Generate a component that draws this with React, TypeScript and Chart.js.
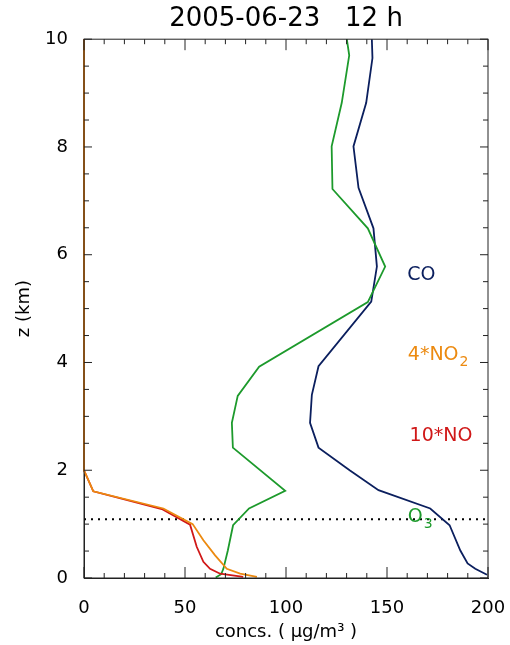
import React, { useEffect, useRef } from "react";
import { Chart, registerables } from "chart.js";

Chart.register(...registerables);

// ---------- text ----------
const TITLE = "2005-06-23   12 h";
const X_TITLE = "concs. ( μg/m³ )";
const Y_TITLE = "z (km)";

// ---------- axes ----------
const X_MIN = 0;
const X_MAX = 200;
const X_MAJOR = 50;
const X_MINOR = 10;
const Y_MIN = 0;
const Y_MAX = 10;
const Y_MAJOR = 2;
const Y_MINOR = 0.5;

// ---------- data (concentration vs height) ----------
const CO_Z = [10.0, 9.65, 8.82, 8.01, 7.24, 6.49, 5.78, 5.13, 3.93, 3.4, 2.88, 2.42, 2.0, 1.63, 1.29, 0.98, 0.51, 0.27, 0.17, 0.06];
const CO_X = [142.5, 142.8, 139.7, 133.4, 135.9, 143.3, 145.0, 142.2, 116.1, 112.8, 111.9, 116.1, 131.5, 145.8, 171.4, 181.0, 186.3, 189.9, 193.7, 199.5];

const O3_Z = [10.0, 9.7, 8.82, 8.01, 7.22, 6.49, 5.78, 5.12, 3.92, 3.38, 2.88, 2.42, 1.62, 1.29, 0.98, 0.51, 0.17, 0.07, 0.01];
const O3_X = [130.1, 131.3, 127.6, 122.6, 123.0, 140.5, 149.1, 140.5, 86.7, 76.1, 73.2, 73.7, 99.6, 81.7, 73.8, 71.2, 69.0, 67.9, 65.2];

const NO_Z = [10.0, 2.0, 1.61, 1.28, 0.99, 0.58, 0.3, 0.17, 0.08, 0.02];
const NO_X = [0, 0, 4.6, 38.5, 52.5, 55.8, 59.1, 62.4, 67.4, 78.8];

const NO2_Z = [10.0, 2.0, 1.61, 1.29, 1.0, 0.7, 0.42, 0.17, 0.08, 0.02];
const NO2_X = [0, 0, 4.6, 39.3, 53.8, 59.1, 64.9, 70.7, 77.3, 85.6];

const BL_Z = 1.09; // dotted boundary-layer height

// series labels: [main, subscript]
const CO_LABEL = ["CO", ""];
const NO2_LABEL = ["4*NO", "2"];
const NO_LABEL = ["10*NO", ""];
const O3_LABEL = ["O", "3"];

const C_CO = "#0b1f5e";
const C_O3 = "#1d9a2c";
const C_NO = "#d01818";
const C_NO2 = "#ec8a10";

const FONT = '"DejaVu Sans", "Liberation Sans", sans-serif';

const toPts = (xs: number[], zs: number[]) => xs.map((v, i) => ({ x: v, y: zs[i] }));

const framePlugin = {
  id: "frameTicks",
  afterDatasetsDraw(chart: any) {
    const { ctx, chartArea: a, scales } = chart;
    const x = scales.x;
    const y = scales.y;
    ctx.save();
    ctx.strokeStyle = "#222";
    ctx.lineWidth = 1;
    ctx.strokeRect(a.left, a.top, a.right - a.left, a.bottom - a.top);
    ctx.beginPath();
    const nx = Math.round((X_MAX - X_MIN) / X_MINOR);
    for (let k = 0; k <= nx; k++) {
      const v = X_MIN + k * X_MINOR;
      const px = x.getPixelForValue(v);
      const len = Math.abs(v % X_MAJOR) < 1e-6 ? 11 : 5;
      ctx.moveTo(px, a.bottom);
      ctx.lineTo(px, a.bottom - len);
      ctx.moveTo(px, a.top);
      ctx.lineTo(px, a.top + len);
    }
    const ny = Math.round((Y_MAX - Y_MIN) / Y_MINOR);
    for (let k = 0; k <= ny; k++) {
      const v = Y_MIN + k * Y_MINOR;
      const py = y.getPixelForValue(v);
      const len = Math.abs(v % Y_MAJOR) < 1e-6 ? 8 : 5;
      ctx.moveTo(a.left, py);
      ctx.lineTo(a.left + len, py);
      ctx.moveTo(a.right, py);
      ctx.lineTo(a.right - len, py);
    }
    ctx.stroke();

    const drawLabel = (vx: number, vz: number, lab: string[], color: string) => {
      const px = x.getPixelForValue(vx);
      const py = y.getPixelForValue(vz);
      ctx.fillStyle = color;
      ctx.textAlign = "left";
      ctx.textBaseline = "middle";
      ctx.font = `19px ${FONT}`;
      ctx.fillText(lab[0], px, py);
      if (lab[1]) {
        const w = ctx.measureText(lab[0]).width;
        ctx.font = `14px ${FONT}`;
        ctx.fillText(lab[1], px + w + 1, py + 7);
      }
    };
    drawLabel(160, 5.63, CO_LABEL, C_CO);
    drawLabel(160.3, 4.13, NO2_LABEL, C_NO2);
    drawLabel(161.2, 2.63, NO_LABEL, C_NO);
    drawLabel(160.3, 1.13, O3_LABEL, C_O3);
    ctx.restore();
  },
};

export default function App() {
  const ref = useRef<HTMLCanvasElement>(null);
  useEffect(() => {
    document.body.style.margin = "0";
    Chart.defaults.font.family = FONT;
    const line = (label: string, data: any[], color: string) => ({
      label,
      data,
      showLine: true,
      borderColor: color,
      backgroundColor: color,
      borderWidth: 1.8,
      pointRadius: 0,
      tension: 0,
      clip: 3,
    });
    const chart = new Chart(ref.current!, {
      type: "scatter",
      data: {
        datasets: [
          line("4*NO2", toPts(NO2_X, NO2_Z), C_NO2),
          line("10*NO", toPts(NO_X, NO_Z), C_NO),
          line("O3", toPts(O3_X, O3_Z), C_O3),
          line("CO", toPts(CO_X, CO_Z), C_CO),
          {
            label: "BL",
            data: [
              { x: X_MIN, y: BL_Z },
              { x: X_MAX, y: BL_Z },
            ],
            showLine: true,
            borderColor: "#000",
            borderWidth: 2,
            borderDash: [2, 5],
            pointRadius: 0,
          } as any,
        ],
      },
      options: {
        responsive: false,
        animation: false,
        layout: { padding: { left: 0, right: 22, top: 0, bottom: 0 } },
        plugins: {
          legend: { display: false },
          tooltip: { enabled: false },
          title: {
            display: true,
            text: TITLE,
            color: "#000",
            fullSize: false,
            font: { size: 26, weight: "normal" as any, family: FONT },
            padding: { top: 4, bottom: 4 },
          },
        },
        scales: {
          x: {
            type: "linear",
            position: "bottom",
            min: X_MIN,
            max: X_MAX,
            grid: { display: false },
            border: { display: true, color: "#222", width: 1 },
            ticks: { stepSize: X_MAJOR, color: "#000", font: { size: 18, family: FONT }, padding: 12, maxRotation: 0 },
            title: { display: true, text: X_TITLE, color: "#000", font: { size: 18, family: FONT }, padding: { top: 0, bottom: 2 } },
            afterFit: (s: any) => {
              s.height = 67;
              s.paddingLeft = 0;
              s.paddingRight = 0;
            },
          },
          y: {
            type: "linear",
            min: Y_MIN,
            max: Y_MAX,
            grid: { display: false },
            border: { display: true, color: "#222", width: 1 },
            ticks: { stepSize: Y_MAJOR, color: "#000", font: { size: 18, family: FONT }, padding: 8 },
            title: { display: true, text: Y_TITLE, color: "#000", font: { size: 18, family: FONT }, padding: { top: 14, bottom: 0 } },
            afterFit: (s: any) => {
              s.width = 84;
              s.paddingTop = 0;
              s.paddingBottom = 0;
            },
          },
        },
      },
      plugins: [framePlugin],
    } as any);
    return () => chart.destroy();
  }, []);
  return (
    <div style={{ width: 510, height: 645 }}>
      <canvas ref={ref} width={510} height={645} style={{ display: "block" }} />
    </div>
  );
}
